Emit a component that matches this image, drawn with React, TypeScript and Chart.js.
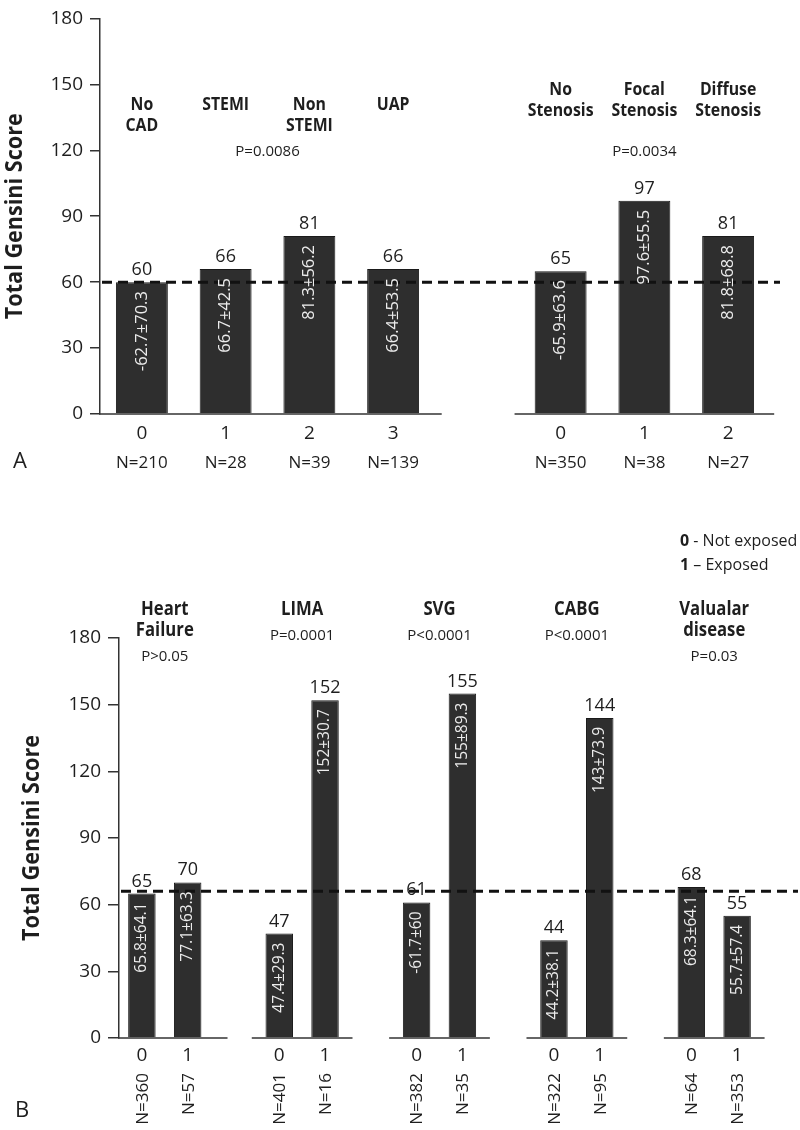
import React, { useEffect, useRef } from "react";
import { Chart, registerables } from "chart.js";

Chart.register(...registerables);

const FONT = "'Open Sans', 'Noto Sans', sans-serif";
const INK = "#1e1e1e";
const BAR = "#2e2e2e";

// ---------- Panel A data ----------
const aCategories1 = ["0", "1", "2", "3"];
const aTitles1 = [["No", "CAD"], ["STEMI"], ["Non", "STEMI"], ["UAP"]];
const aValues1 = [60, 66, 81, 66];
const aInner1 = ["-62.7±70.3", "66.7±42.5", "81.3±56.2", "66.4±53.5"];
const aN1 = ["N=210", "N=28", "N=39", "N=139"];
const aP1 = "P=0.0086";

const aCategories2 = ["0", "1", "2"];
const aTitles2 = [["No", "Stenosis"], ["Focal", "Stenosis"], ["Diffuse", "Stenosis"]];
const aValues2 = [65, 97, 81];
const aInner2 = ["-65.9±63.6", "97.6±55.5", "81.8±68.8"];
const aN2 = ["N=350", "N=38", "N=27"];
const aP2 = "P=0.0034";

const aReference = 60;

// ---------- Panel B data ----------
const bCategories = ["0", "1"];
const bGroupTitles = [["Heart", "Failure"], ["LIMA"], ["SVG"], ["CABG"], ["Valualar", "disease"]];
const bPValues = ["P>0.05", "P=0.0001", "P<0.0001", "P<0.0001", "P=0.03"];
const bValuesNotExposed = [65, 47, 61, 44, 68];
const bValuesExposed = [70, 152, 155, 144, 55];
const bInnerNotExposed = ["65.8±64.1", "47.4±29.3", "-61.7±60", "44.2±38.1", "68.3±64.1"];
const bInnerExposed = ["77.1±63.3", "152±30.7", "155±89.3", "143±73.9", "55.7±57.4"];
const bNNotExposed = ["N=360", "N=401", "N=382", "N=322", "N=64"];
const bNExposed = ["N=57", "N=16", "N=35", "N=95", "N=353"];
const bReference = 66;

const yTicks = [0, 30, 60, 90, 120, 150, 180];
const yTitle = "Total Gensini Score";
const legendRows = [
  ["0", " - Not exposed"],
  ["1", " – Exposed"],
];

type Bar = { cat: string; value: number; inner: string; n: string; title?: string[] };
type Group = { bars: Bar[]; title?: string[]; p: string; titleOffset: number; pOffset: number; start?: number };

const panelA: Group[] = [
  {
    bars: aCategories1.map((c, i) => ({ cat: c, value: aValues1[i], inner: aInner1[i], n: aN1[i], title: aTitles1[i] })),
    p: aP1, titleOffset: 86, pOffset: 133,
  },
  {
    bars: aCategories2.map((c, i) => ({ cat: c, value: aValues2[i], inner: aInner2[i], n: aN2[i], title: aTitles2[i] })),
    p: aP2, titleOffset: 71, pOffset: 133,
  },
];

const panelB: Group[] = bGroupTitles.map((t, gi) => ({
  bars: [
    { cat: bCategories[0], value: bValuesNotExposed[gi], inner: bInnerNotExposed[gi], n: bNNotExposed[gi] },
    { cat: bCategories[1], value: bValuesExposed[gi], inner: bInnerExposed[gi], n: bNExposed[gi] },
  ],
  title: t,
  p: bPValues[gi],
  titleOffset: -28,
  pOffset: -28 + (t.length - 1) * 21 + 26,
}));

type PanelCfg = {
  groups: Group[];
  reference: number;
  canvasTop: number;
  canvasHeight: number;
  plotTop: number;
  plotBottom: number;
  plotLeft: number;
  plotRight: number;
  barPct: number;
  innerFont: number;
  nRotated: boolean;
  nY: number;
  tickPad: number;
  tickLength: number;
  extFirst: number;
  ext: number;
  dashExtra: number;
  letter: string;
  letterX: number;
  letterY: number;
  yTitleX: number;
  perBarTitles: boolean;
  titleFont: number;
  legend: boolean;
};

const cfgA: PanelCfg = {
  groups: panelA, reference: aReference, canvasTop: 0, canvasHeight: 480,
  plotTop: 14, plotBottom: 414, plotLeft: 100, plotRight: 770,
  barPct: 0.62, innerFont: 16.5, nRotated: false, nY: 463, tickPad: 8, tickLength: 10,
  extFirst: 0.58, ext: 0.55, dashExtra: 10,
  letter: "A", letterX: 13, letterY: 468, yTitleX: 15, perBarTitles: true, titleFont: 18, legend: false,
};

const cfgB: PanelCfg = {
  groups: panelB, reference: bReference, canvasTop: 520, canvasHeight: 610,
  plotTop: 118, plotBottom: 518, plotLeft: 119, plotRight: 760,
  barPct: 0.6, innerFont: 15.5, nRotated: true, nY: 553, tickPad: 6, tickLength: 11,
  extFirst: 0.87, ext: 0.6, dashExtra: 38,
  letter: "B", letterX: 15, letterY: 597, yTitleX: 32, perBarTitles: false, titleFont: 19, legend: true,
};

function flatten(groups: Group[]) {
  const labels: string[] = [];
  const data: (number | null)[] = [];
  groups.forEach((g, gi) => {
    if (gi > 0) {
      labels.push("");
      data.push(null);
    }
    g.start = labels.length;
    g.bars.forEach((b) => {
      labels.push(b.cat);
      data.push(b.value);
    });
  });
  return { labels, data };
}

// draw text horizontally condensed (the original uses a narrow face)
function narrowText(ctx: CanvasRenderingContext2D, text: string, x: number, y: number, sx = 0.88) {
  ctx.save();
  ctx.translate(x, y);
  ctx.scale(sx, 1);
  ctx.fillText(text, 0, 0);
  ctx.restore();
}

function makePlugin(cfg: PanelCfg) {
  return {
    id: "annotations",
    afterDraw(chart: any) {
      const ctx = chart.ctx as CanvasRenderingContext2D;
      const area = chart.chartArea;
      const xs = chart.scales.x;
      const ys = chart.scales.y;
      const meta = chart.getDatasetMeta(0);
      const step = xs.getPixelForValue(1) - xs.getPixelForValue(0);
      ctx.save();

      // axis segments
      ctx.strokeStyle = "#333";
      ctx.lineWidth = 1.5;
      cfg.groups.forEach((g, gi) => {
        const s = g.start as number;
        const first = meta.data[s].x;
        const last = meta.data[s + g.bars.length - 1].x;
        const x0 = gi === 0 ? area.left - 1 : first - cfg.ext * step;
        const x1 = last + (gi === 0 ? cfg.extFirst : cfg.ext) * step;
        ctx.beginPath();
        ctx.moveTo(x0, area.bottom);
        ctx.lineTo(x1, area.bottom);
        ctx.stroke();
      });

      // dashed reference line
      const ry = ys.getPixelForValue(cfg.reference);
      ctx.strokeStyle = "#111";
      ctx.lineWidth = 3;
      ctx.setLineDash([10, 6]);
      ctx.beginPath();
      ctx.moveTo(area.left + 2, ry);
      ctx.lineTo(area.right + cfg.dashExtra, ry);
      ctx.stroke();
      ctx.setLineDash([]);

      // bars: value labels, inner text, N labels
      cfg.groups.forEach((g) => {
        const s = g.start as number;
        g.bars.forEach((b, bi) => {
          const el = meta.data[s + bi];
          ctx.fillStyle = INK;
          ctx.font = `18px ${FONT}`;
          ctx.textAlign = "center";
          ctx.textBaseline = "alphabetic";
          ctx.fillText(String(b.value), el.x, el.y - 7);

          ctx.save();
          ctx.translate(el.x, el.y + 9);
          ctx.rotate(-Math.PI / 2);
          ctx.fillStyle = "#ececec";
          ctx.font = `${cfg.innerFont}px ${FONT}`;
          ctx.textAlign = "right";
          ctx.textBaseline = "middle";
          ctx.fillText(b.inner, 0, 0);
          ctx.restore();

          ctx.fillStyle = INK;
          ctx.font = `17px ${FONT}`;
          if (cfg.nRotated) {
            ctx.save();
            ctx.translate(el.x + 1, cfg.nY);
            ctx.rotate(-Math.PI / 2);
            ctx.textAlign = "right";
            ctx.textBaseline = "middle";
            ctx.fillText(b.n, 0, 0);
            ctx.restore();
          } else {
            ctx.textAlign = "center";
            ctx.textBaseline = "middle";
            ctx.fillText(b.n, el.x, cfg.nY);
          }

          if (cfg.perBarTitles && b.title) {
            ctx.font = `bold ${cfg.titleFont}px ${FONT}`;
            ctx.textAlign = "center";
            ctx.textBaseline = "middle";
            b.title.forEach((line, li) => {
              narrowText(ctx, line, el.x, area.top + g.titleOffset + li * 21);
            });
          }
        });
        const first = meta.data[s].x;
        const last = meta.data[s + g.bars.length - 1].x;
        const cx = (first + last) / 2;
        ctx.fillStyle = INK;
        ctx.textAlign = "center";
        ctx.textBaseline = "middle";
        if (!cfg.perBarTitles && g.title) {
          ctx.font = `bold ${cfg.titleFont}px ${FONT}`;
          g.title.forEach((line, li) => {
            narrowText(ctx, line, cx, area.top + g.titleOffset + li * 21);
          });
        }
        ctx.font = `15px ${FONT}`;
        ctx.fillText(g.p, cx, area.top + g.pOffset);
      });

      // y-axis title
      ctx.save();
      ctx.translate(cfg.yTitleX, (area.top + area.bottom) / 2);
      ctx.rotate(-Math.PI / 2);
      ctx.scale(0.94, 1);
      ctx.font = `bold 23px ${FONT}`;
      ctx.fillStyle = INK;
      ctx.textAlign = "center";
      ctx.textBaseline = "middle";
      ctx.fillText(yTitle, 0, 0);
      ctx.restore();

      // panel letter
      ctx.font = `22px ${FONT}`;
      ctx.fillStyle = INK;
      ctx.textAlign = "left";
      ctx.textBaseline = "alphabetic";
      ctx.fillText(cfg.letter, cfg.letterX, cfg.letterY);

      // legend
      if (cfg.legend) {
        ctx.textBaseline = "middle";
        legendRows.forEach((r, ri) => {
          const y = 21 + ri * 24;
          ctx.font = `bold 16px ${FONT}`;
          ctx.fillText(r[0], 680, y);
          const w = ctx.measureText(r[0]).width;
          ctx.font = `16px ${FONT}`;
          ctx.fillText(r[1], 680 + w, y);
        });
      }
      ctx.restore();
    },
  };
}

function Panel({ cfg }: { cfg: PanelCfg }) {
  const ref = useRef<HTMLCanvasElement | null>(null);
  useEffect(() => {
    if (!ref.current) return;
    const { labels, data } = flatten(cfg.groups);
    const chart = new Chart(ref.current, {
      type: "bar",
      data: {
        labels,
        datasets: [
          {
            data,
            backgroundColor: BAR,
            borderColor: "#1a1a1a",
            borderWidth: 1,
            barPercentage: cfg.barPct,
            categoryPercentage: 1,
          },
        ],
      },
      options: {
        responsive: false,
        animation: false,
        devicePixelRatio: 1,
        layout: {
          padding: { top: cfg.plotTop, left: 0, right: 800 - cfg.plotRight, bottom: 0 },
        },
        plugins: { legend: { display: false }, tooltip: { enabled: false }, title: { display: false } },
        scales: {
          x: {
            offset: true,
            grid: { display: false, drawTicks: false },
            border: { display: false },
            ticks: {
              color: INK,
              font: { family: FONT, size: 19 },
              padding: cfg.tickPad,
              autoSkip: false,
              maxRotation: 0,
            },
            afterFit: (scale: any) => {
              scale.height = cfg.canvasHeight - cfg.plotBottom;
            },
          },
          y: {
            min: 0,
            max: 180,
            grid: { drawOnChartArea: false, drawTicks: true, tickLength: cfg.tickLength, color: "#333", lineWidth: 1.5 },
            border: { display: true, color: "#333", width: 1.5 },
            ticks: {
              color: INK,
              font: { family: FONT, size: 19 },
              padding: 7,
            },
            afterBuildTicks: (scale: any) => {
              scale.ticks = yTicks.map((v) => ({ value: v }));
            },
            afterFit: (scale: any) => {
              scale.width = cfg.plotLeft;
            },
          },
        },
      },
      plugins: [makePlugin(cfg)],
    });
    return () => chart.destroy();
  }, [cfg]);
  return (
    <canvas
      ref={ref}
      width={800}
      height={cfg.canvasHeight}
      style={{ position: "absolute", left: 0, top: cfg.canvasTop, width: 800, height: cfg.canvasHeight }}
    />
  );
}

export default function App() {
  return (
    <div style={{ position: "absolute", left: 0, top: 0, width: 800, height: 1130, background: "#fff" }}>
      <Panel cfg={cfgA} />
      <Panel cfg={cfgB} />
    </div>
  );
}
